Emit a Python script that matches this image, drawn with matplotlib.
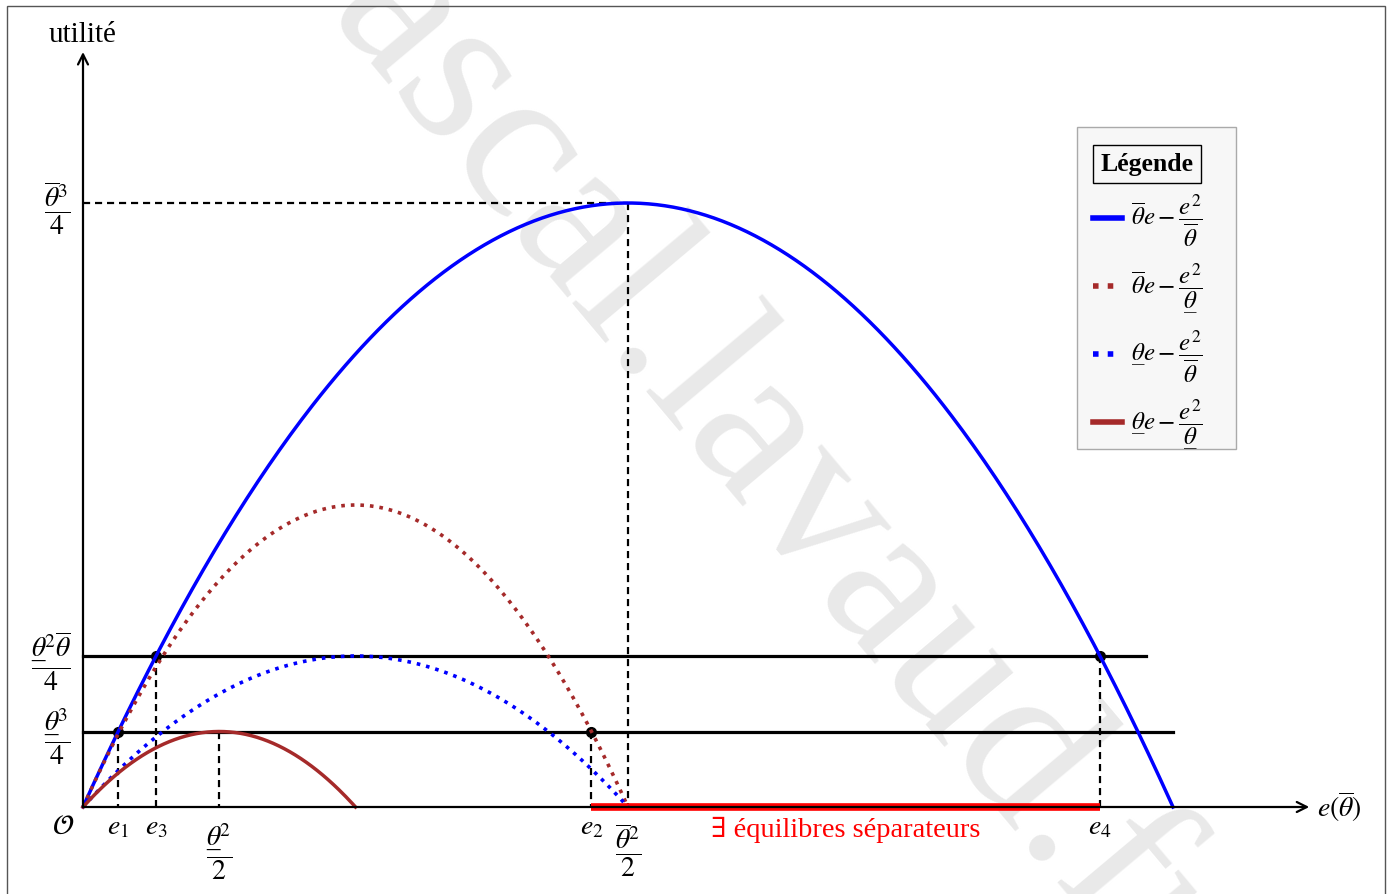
import numpy as np
import matplotlib.pyplot as plt
from matplotlib.lines import Line2D
from matplotlib.patches import Rectangle

plt.rcParams['font.family'] = ['Liberation Serif', 'DejaVu Serif']
plt.rcParams['mathtext.fontset'] = 'stix'

# types : theta barre (élevé) et theta souligné (faible)
theta_h = 2.0
theta_b = 1.0

# niveaux d'utilité de réservation et longueur des traits horizontaux
niveaux = [theta_b**2 * theta_h / 4, theta_b**3 / 4]
fins_niveaux = [3.9, 4.0]

# points d'intersection e1..e4
e1 = (4 - np.sqrt(14)) / 2
e3 = 2 - np.sqrt(3)
e2 = 1 + np.sqrt(0.75)
e4 = 2 + np.sqrt(3)

couleur_brun = '#a52a2a'
UL = '\u03b8\u0332'   # theta souligné

# légende : styles et textes
styles_legende = [('blue', '-'), (couleur_brun, ':'), ('blue', ':'), (couleur_brun, '-')]
etiquettes = [r'$\overline{\theta}e-\dfrac{e^2}{\overline{\theta}}$',
              r'$\overline{\theta}e-\dfrac{e^2}{%s}$' % UL,
              r'$%se-\dfrac{e^2}{\overline{\theta}}$' % UL,
              r'$%se-\dfrac{e^2}{%s}$' % (UL, UL)]

# mise en page : origine en pixels et échelles
W, H = 1391, 894
X0, Y0 = 83, 807
sx, sy = 272.5, 302.0

fig = plt.figure(figsize=(W / 100, H / 100), dpi=100)
ax = fig.add_axes([0, 0, 1, 1])
ax.set_xlim(-X0 / sx, (W - X0) / sx)
ax.set_ylim(-(H - Y0) / sy, Y0 / sy)
ax.axis('off')


def px(x, y):
    """coordonnées pixels (depuis le coin haut gauche) -> fraction de figure"""
    return x / W, 1 - y / H


# filigrane
ax.text(*px(700, 460), 'pascal.lavaud.fr', transform=ax.transAxes,
        rotation=-50, fontsize=157, color='#e9e9e9', ha='center',
        va='baseline', rotation_mode='anchor', zorder=0)

# cadre
fig.patches.append(Rectangle((7 / W, -0.05), (1385 - 7) / W, 1.05 - 6 / H,
                             transform=fig.transFigure, fill=False,
                             ec='#555555', lw=1))

# pointillés de repère
tirets = dict(color='black', lw=1.6, ls=(0, (3.2, 2.2)), zorder=1)
ax.plot([0, 2], [2, 2], **tirets)
ax.plot([2, 2], [2, 0], **tirets)
for x, y in [(e1, niveaux[1]), (e3, niveaux[0]), (0.5, niveaux[1]),
             (e2, niveaux[1]), (e4, niveaux[0])]:
    ax.plot([x, x], [y, 0], **tirets)

# niveaux horizontaux
for y, xf in zip(niveaux, fins_niveaux):
    ax.plot([0, xf], [y, y], color='black', lw=2.3, zorder=2)

# zone des équilibres séparateurs
ax.plot([e2, e4], [0, 0], color='red', lw=5.5, solid_capstyle='butt', zorder=2)

# points d'intersection
ax.plot([e1, e3, e2, e4], [niveaux[1], niveaux[0], niveaux[1], niveaux[0]],
        'o', color='black', ms=7, zorder=2.5)

# courbes d'utilité
e = np.linspace(0, theta_h**2, 400)
ax.plot(e, theta_h * e - e**2 / theta_h, color='blue', lw=2.5, zorder=3)
e = np.linspace(0, theta_h * theta_b, 300)
ax.plot(e, theta_h * e - e**2 / theta_b, color=couleur_brun, lw=2.6, ls=':', zorder=3)
ax.plot(e, theta_b * e - e**2 / theta_h, color='blue', lw=2.6, ls=':', zorder=3)
e = np.linspace(0, theta_b**2, 200)
ax.plot(e, theta_b * e - e**2 / theta_b, color=couleur_brun, lw=2.5, zorder=3)

# axes fléchés
fleche = dict(arrowstyle='->', lw=1.6, color='black', shrinkA=0, shrinkB=0,
              mutation_scale=18)
ax.annotate('', xy=(4.5, 0), xytext=(0, 0), arrowprops=fleche, zorder=4)
ax.annotate('', xy=(0, 2.5), xytext=(0, 0), arrowprops=fleche, zorder=4)
ax.text(0, (Y0 - 35) / sy, 'utilité', fontsize=21, ha='center', va='center')
ax.text(4.5 + 8 / sx, 0, r'$e(\overline{\theta})$', fontsize=20, ha='left', va='center')

# graduations de l'axe vertical
fs = 20
dy = -5 / sy
ax.text(-12 / sx, 2 + dy, r'$\dfrac{\overline{\theta}^3}{4}$', fontsize=fs, ha='right', va='center')
ax.text(-12 / sx, niveaux[0] + dy, r'$\dfrac{%s^2\overline{\theta}}{4}$' % UL, fontsize=fs, ha='right', va='center')
ax.text(-12 / sx, niveaux[1] + dy, r'$\dfrac{%s^3}{4}$' % UL, fontsize=fs, ha='right', va='center')

# graduations de l'axe horizontal
ybas = -8 / sy
ax.text(-20 / sx, ybas, r'$\mathcal{O}$', fontsize=fs, ha='center', va='top')
for x, nom in [(e1, 'e_1'), (e3, 'e_3'), (e2, 'e_2'), (e4, 'e_4')]:
    ax.text(x, ybas, '$%s$' % nom, fontsize=fs, ha='center', va='top')
ax.text(0.5, ybas - 6 / sy, r'$\dfrac{%s^2}{2}$' % UL, fontsize=fs, ha='center', va='top')
ax.text(2, ybas - 6 / sy, r'$\dfrac{\overline{\theta}^2}{2}$', fontsize=fs, ha='center', va='top')
ax.text(2.8, -23 / sy, '∃ équilibres séparateurs', fontsize=20.5, color='red',
        ha='center', va='center')

# légende dessinée dans un cadre
tf = fig.transFigure
fig.patches.append(Rectangle(px(1077, 449), 159 / W, 322 / H, transform=tf,
                             fc='#f7f7f7', ec='#aaaaaa', lw=1, zorder=5))
fig.text(*px(1147, 164), 'Légende', fontsize=18.5, fontweight='bold',
         ha='center', va='center', zorder=6,
         bbox=dict(boxstyle='square,pad=0.28', fc='none', ec='black', lw=1))
for i, ((c, ls), lab) in enumerate(zip(styles_legende, etiquettes)):
    yl = 218 + 68 * i
    fig.add_artist(Line2D([1093 / W, 1122 / W], [1 - yl / H] * 2, transform=tf,
                          color=c, ls=ls, lw=4, zorder=6))
    fig.text(*px(1131, yl + 3), lab, fontsize=18, ha='left', va='center', zorder=6)

fig.savefig('out.png', dpi=100)
